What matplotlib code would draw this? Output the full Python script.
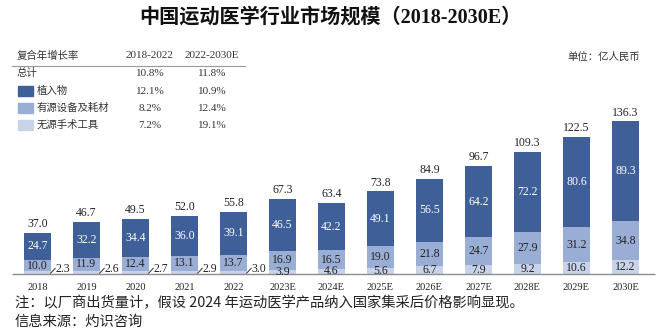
import numpy as np
import matplotlib
matplotlib.use("Agg")
import matplotlib.pyplot as plt
from matplotlib.patches import Rectangle

# data
years = ["2018", "2019", "2020", "2021", "2022", "2023E", "2024E", "2025E",
         "2026E", "2027E", "2028E", "2029E", "2030E"]
implants = [24.7, 32.2, 34.4, 36.0, 39.1, 46.5, 42.2, 49.1, 56.5, 64.2, 72.2, 80.6, 89.3]
active = [10.0, 11.9, 12.4, 13.1, 13.7, 16.9, 16.5, 19.0, 21.8, 24.7, 27.9, 31.2, 34.8]
passive = [2.3, 2.6, 2.7, 2.9, 3.0, 3.9, 4.6, 5.6, 6.7, 7.9, 9.2, 10.6, 12.2]
totals = [37.0, 46.7, 49.5, 52.0, 55.8, 67.3, 63.4, 73.8, 84.9, 96.7, 109.3, 122.5, 136.3]

cagr_rows = ["总计", "植入物", "有源设备及耗材", "无源手术工具"]
cagr_1822 = ["10.8%", "12.1%", "8.2%", "7.2%"]
cagr_2230 = ["11.8%", "10.9%", "12.4%", "19.1%"]

c_dark = "#3f5f99"
c_mid = "#9aaed5"
c_light = "#c8d3ea"
colors = [None, c_dark, c_mid, c_light]

W, H = 660, 332
SERIF = ["Liberation Serif", "Noto Sans CJK SC"]
CJK = ["Noto Sans CJK SC", "Liberation Serif"]

fig = plt.figure(figsize=(W / 100, H / 100), dpi=100)


def ftext(x, y, s, **kw):
    # pixel coords, y from top
    fig.text(x / W, 1 - y / H, s, **kw)


# axes: baseline at y=274px, bar centres at 37.5 + 49*i px
base_px = 274
top_px = 20
ax = fig.add_axes([0, (H - base_px) / H, 1, (base_px - top_px) / H])
ppu = 1.12
ax.set_ylim(0, (base_px - top_px) / ppu)
x0, dx = 37.5, 49.0
ax.set_xlim(-x0 / dx, (W - x0) / dx)
ax.axis("off")

x = np.arange(len(years))
w = 27 / dx
ax.bar(x, passive, w, color=c_light, zorder=2)
ax.bar(x, active, w, bottom=passive, color=c_mid, zorder=2)
bottoms = np.array(passive) + np.array(active)
ax.bar(x, implants, w, bottom=bottoms, color=c_dark, zorder=2)

ax.hlines(0, (12 - x0) / dx, (655 - x0) / dx, color="#8c8c8c", lw=1.0, zorder=3, clip_on=False)

fs = 8.5
for i in range(len(years)):
    ax.text(x[i], totals[i] + 2.5, f"{totals[i]:.1f}", ha="center", va="bottom",
            fontsize=fs, family=SERIF, color="#222222")
    ax.text(x[i], bottoms[i] + implants[i] / 2, f"{implants[i]:.1f}", ha="center", va="center",
            fontsize=fs, family=SERIF, color="white")
    ax.text(x[i], passive[i] + active[i] / 2, f"{active[i]:.1f}", ha="center", va="center",
            fontsize=fs, family=SERIF, color="#222222")
    if i < 5:
        ax.plot([x[i] + 0.27, x[i] + 0.36], [0.8, 5.0], color="#444444", lw=0.8, zorder=4)
        ax.text(x[i] + 0.36, 4.5, f"{passive[i]:.1f}", ha="left", va="center",
                fontsize=fs, family=SERIF, color="#222222")
    else:
        ax.text(x[i], passive[i] / 2, f"{passive[i]:.1f}", ha="center", va="center",
                fontsize=fs, family=SERIF, color="#222222", zorder=5)
    ax.text(x[i], -13 / ppu, years[i], ha="center", va="center",
            fontsize=7.5, family=SERIF, color="#222222")

# title and unit
ftext(330, 18, "中国运动医学行业市场规模（2018-2030E）", ha="center", va="center",
      fontsize=14.5, fontweight="bold", family=SERIF, color="#111111")
ftext(640, 57, "单位：亿人民币", ha="right", va="center", fontsize=7.5, family=CJK, color="#333333")

# CAGR table
ftext(17, 56, "复合年增长率", ha="left", va="center", fontsize=7.5, family=CJK, color="#333333")
ftext(150, 56, "2018-2022", ha="center", va="center", fontsize=8, family=SERIF, color="#333333")
ftext(212, 56, "2022-2030E", ha="center", va="center", fontsize=8, family=SERIF, color="#333333")
fig.add_artist(plt.Line2D([12 / W, 245 / W], [1 - 66 / H, 1 - 66 / H], color="#999999", lw=0.8))
row_y = [73, 91, 108, 125]
for k, name in enumerate(cagr_rows):
    tx = 17 if k == 0 else 37
    ftext(tx, row_y[k], name, ha="left", va="center", fontsize=7.5, family=CJK, color="#333333")
    ftext(150, row_y[k], cagr_1822[k], ha="center", va="center", fontsize=8, family=SERIF, color="#333333")
    ftext(212, row_y[k], cagr_2230[k], ha="center", va="center", fontsize=8, family=SERIF, color="#333333")
    if k > 0:
        fig.add_artist(Rectangle((18 / W, 1 - (row_y[k] + 5) / H), 15 / W, 10 / H,
                                 transform=fig.transFigure, color=colors[k]))

# footnotes
ftext(15, 303, "注：以厂商出货量计，假设 2024 年运动医学产品纳入国家集采后价格影响显现。",
      ha="left", va="center", fontsize=10.3, family=CJK, color="#222222")
ftext(15, 322, "信息来源：灼识咨询", ha="left", va="center", fontsize=10.3, family=CJK, color="#222222")

fig.savefig("out.png", dpi=100)
